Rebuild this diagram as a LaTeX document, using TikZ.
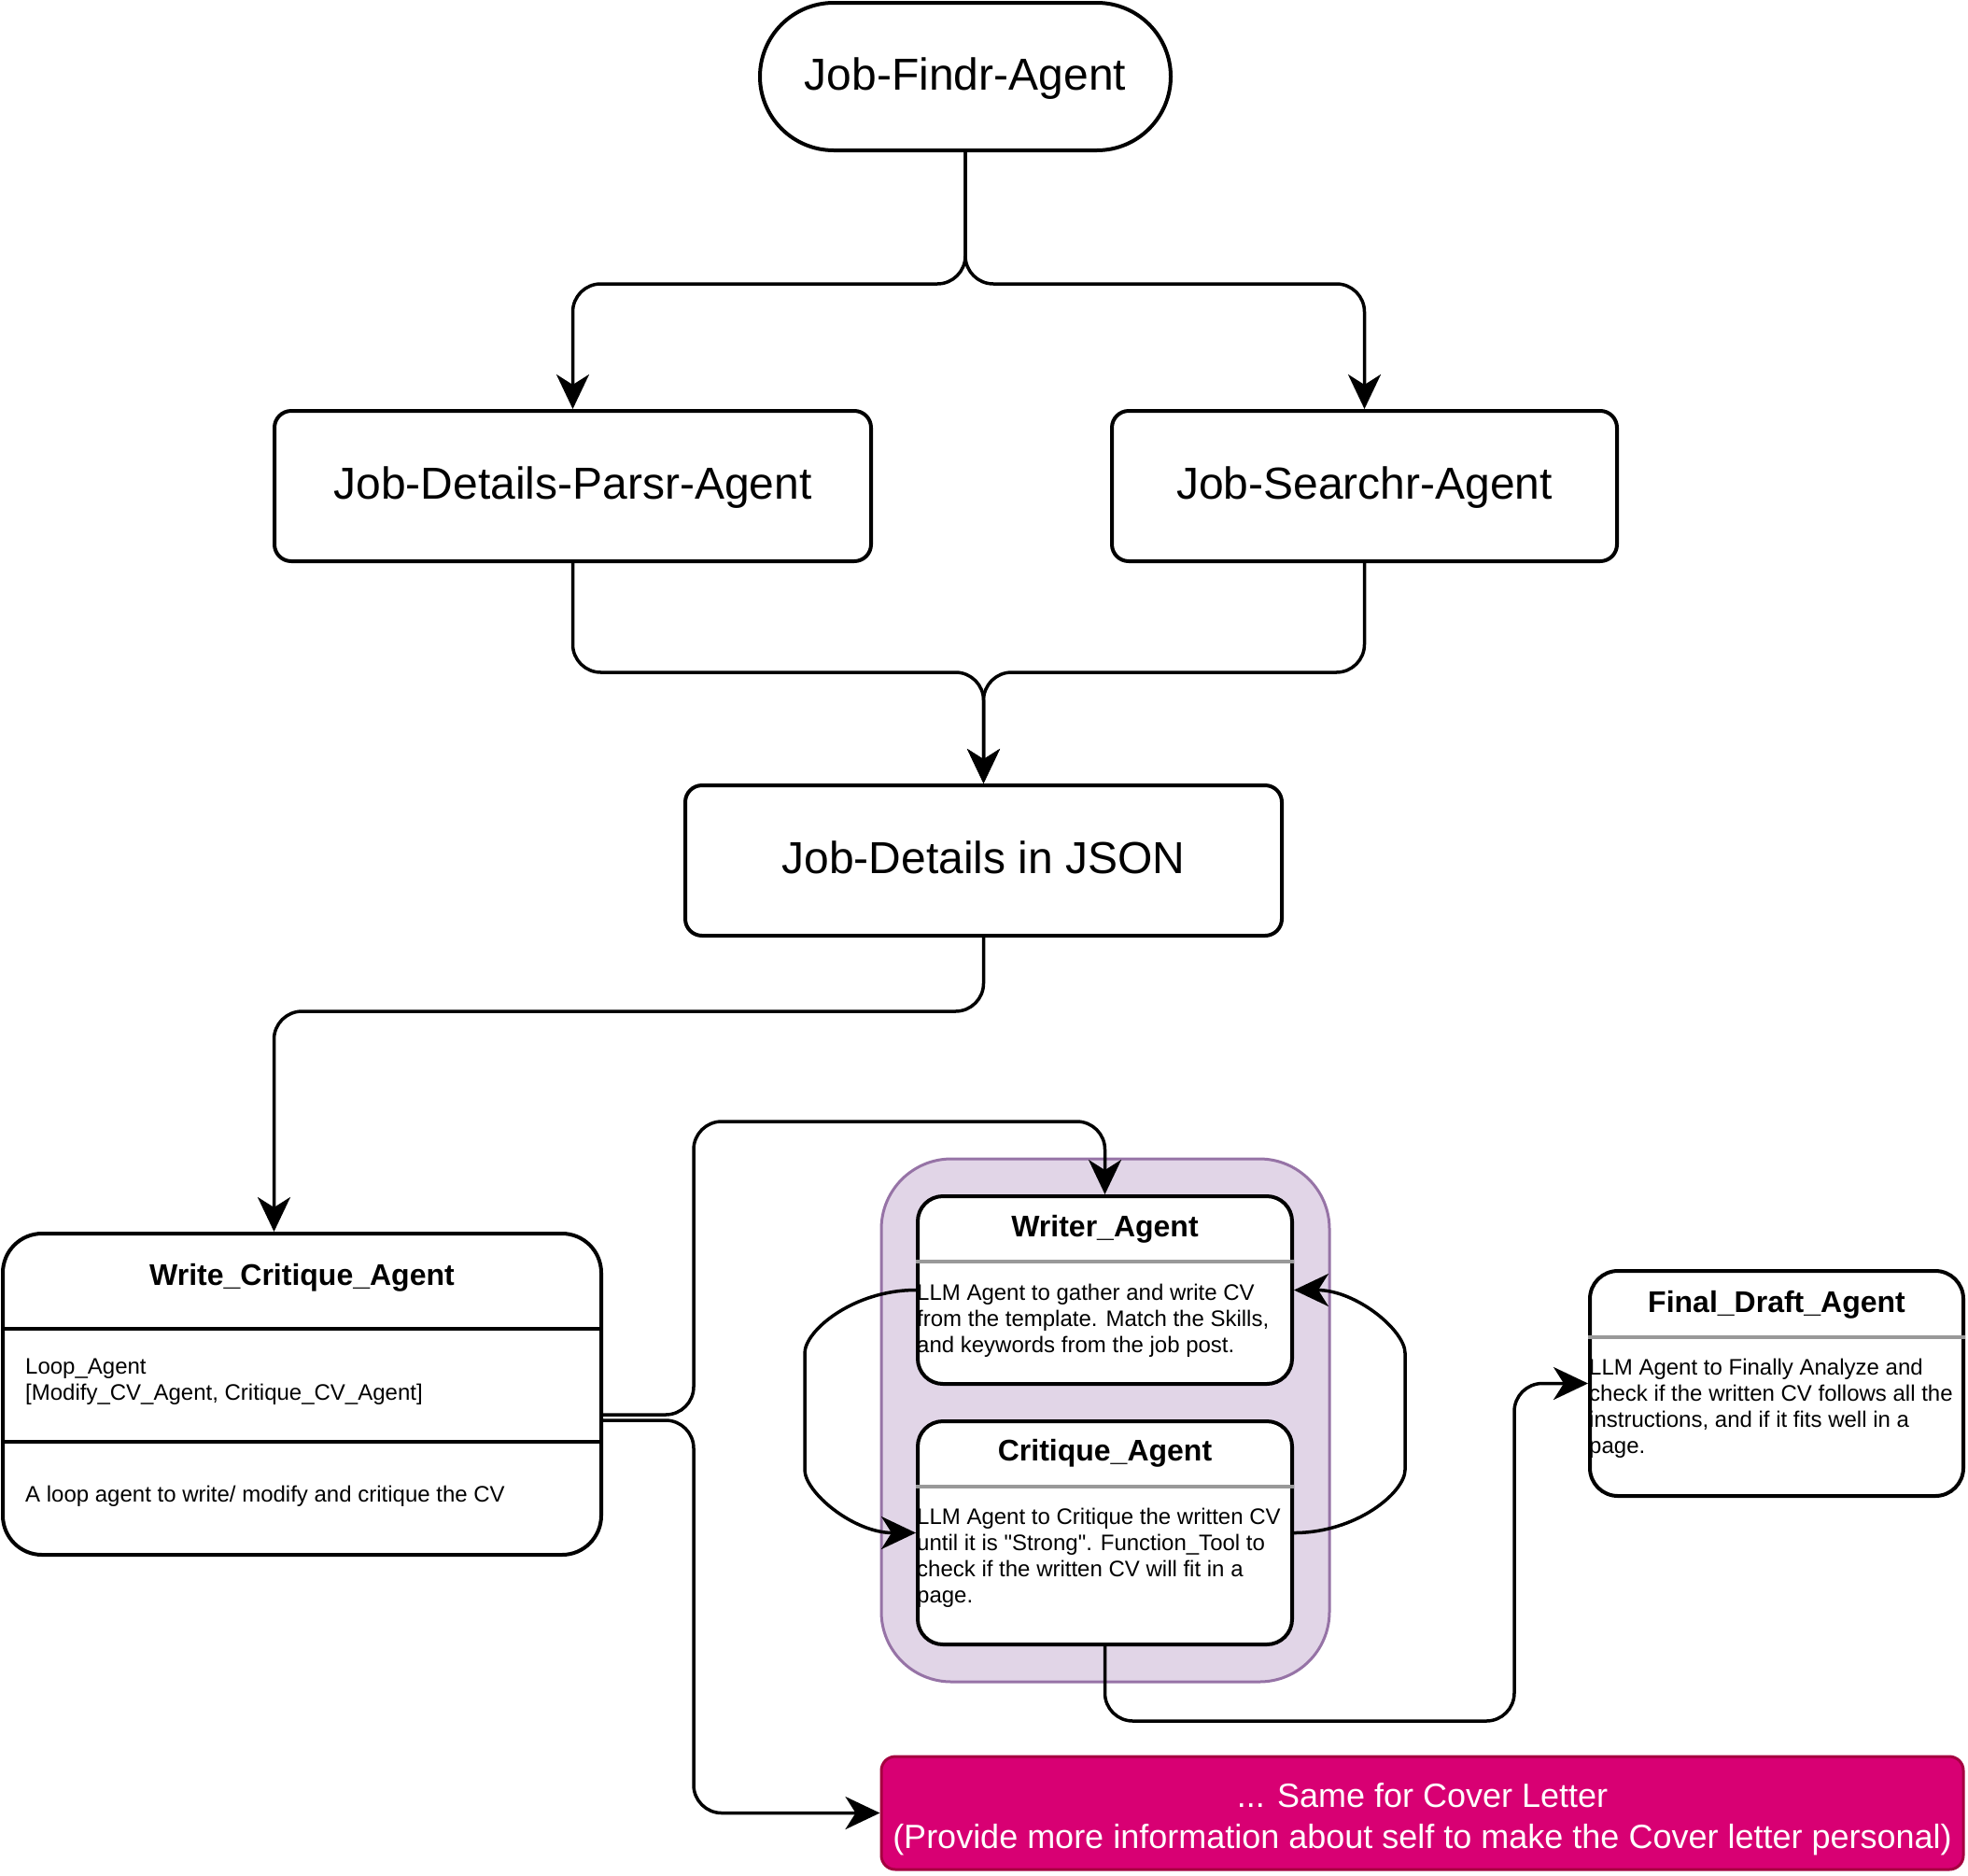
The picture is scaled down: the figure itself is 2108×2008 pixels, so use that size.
\documentclass[tikz,border=0pt]{standalone}
\usepackage{fontspec}
\setmainfont{Liberation Sans}
\newfontfamily\quotefont{Liberation Sans}
\usepackage{tikz}
\usetikzlibrary{arrows.meta}
\usetikzlibrary{positioning}
\tikzset{>={Stealth[length=37pt,width=35pt,inset=11pt]}}

\definecolor{loopfill}{HTML}{E1D5E7}
\definecolor{loopline}{HTML}{9673A6}
\definecolor{coverfill}{HTML}{D80073}
\definecolor{coverline}{HTML}{A50040}
\definecolor{splitgray}{HTML}{999999}

\tikzset{
  agent/.style={draw, line width=4pt, rounded corners=18pt, fill=white, inner sep=0pt,
    text depth=6pt, font=\fontsize{48}{56}\selectfont},
  card/.style={draw, line width=4pt, fill=white, inner sep=0pt},
  cardtitle/.style={font=\fontsize{32}{38}\selectfont\bfseries, inner sep=0pt},
  cardtext/.style={font=\fontsize{24}{28}\selectfont, align=left, inner sep=0pt, anchor=west},
  flow/.style={line width=3.5pt, rounded corners=30pt},
}

\begin{document}
\begin{tikzpicture}[x=1pt, y=-1pt]
  \useasboundingbox (0,0) rectangle (2108,2008);

  % job search part
  \node[agent, rounded corners=79pt, minimum width=440pt, minimum height=158pt] (job-findr) at (1034,82) {Job-Findr-Agent};
  \node[agent, minimum width=639pt, minimum height=161pt] (job-parsr) at (613.5,520.5) {Job-Details-Parsr-Agent};
  \node[agent, minimum width=541pt, minimum height=161pt] (job-searchr) at (1461.5,520.5) {Job-Searchr-Agent};
  \node[agent, minimum width=639pt, minimum height=161pt] (job-json) at (1053.5,921.5) {Job-Details in JSON};

  % loop agent
  \node[card, rounded corners=42pt, minimum width=641pt, minimum height=344pt] (write-critique) at (323.5,1493) {};
  \node[cardtitle] (write-critique-title) at ([yshift=-49pt]write-critique.north) {Write\_Critique\_Agent};
  \draw[line width=4pt] ([yshift=-104pt]write-critique.north west) -- ([yshift=-104pt]write-critique.north east);
  \draw[line width=4pt] ([yshift=-225pt]write-critique.north west) -- ([yshift=-225pt]write-critique.north east);
  \node[cardtext] (write-critique-loop) at ([xshift=26pt,yshift=-161pt]write-critique.north west) {Loop\_Agent\\ {[}Modify\_CV\_Agent, Critique\_CV\_Agent{]}};
  \node[cardtext] (write-critique-note) at ([xshift=26pt,yshift=-283pt]write-critique.north west) {A loop agent to write/ modify and critique the CV};

  % sub agents
  \node[draw=loopline, fill=loopfill, line width=3pt, rounded corners=75pt, minimum width=480pt, minimum height=560pt] (loop-frame) at (1184,1521) {};
  \node[card, rounded corners=27pt, minimum width=401pt, minimum height=201pt] (writer) at (1183.5,1381.5) {};
  \node[cardtitle] (writer-title) at ([yshift=-37pt]writer.north) {Writer\_Agent};
  \draw[splitgray, line width=4pt] ([yshift=-72pt]writer.north west) -- ([yshift=-72pt]writer.north east);
  \node[cardtext] (writer-text) at ([xshift=1pt,yshift=-135pt]writer.north west) {LLM Agent to gather and write CV\\from the template. Match the Skills,\\and keywords from the job post.};

  \node[card, rounded corners=27pt, minimum width=401pt, minimum height=239pt] (critique) at (1183.5,1641.5) {};
  \node[cardtitle] (critique-title) at ([yshift=-36pt]critique.north) {Critique\_Agent};
  \draw[splitgray, line width=4pt] ([yshift=-72pt]critique.north west) -- ([yshift=-72pt]critique.north east);
  \node[cardtext] (critique-text) at ([xshift=1pt,yshift=-148.5pt]critique.north west) {LLM Agent to Critique the written CV\\until it is {\quotefont"Strong"}. Function\_Tool to\\check if the written CV will fit in a\\page.};

  \node[card, rounded corners=30pt, minimum width=400pt, minimum height=241pt] (final-draft) at (1903,1481.5) {};
  \node[cardtitle] (final-draft-title) at ([yshift=-38pt]final-draft.north) {Final\_Draft\_Agent};
  \draw[splitgray, line width=4pt] ([yshift=-73pt]final-draft.north west) -- ([yshift=-73pt]final-draft.north east);
  \node[cardtext] (final-draft-text) at ([xshift=1pt,yshift=-149.5pt]final-draft.north west) {LLM Agent to Finally Analyze and\\check if the written CV follows all the\\instructions, and if it fits well in a\\page.};

  \node[draw=coverline, fill=coverfill, line width=3pt, rounded corners=15pt, minimum width=1159pt, minimum height=121pt] (cover-letter) at (1523.5,1941.5) {};
  \node[text=white, inner sep=0pt, align=center, font=\fontsize{36}{44}\selectfont] (cover-text) at ([yshift=-7pt]cover-letter.center) {... Same for Cover Letter\\(Provide more information about self to make the Cover letter personal)};

  % connectors
  \coordinate[below=141pt of job-findr.south] (findr-split);
  \draw[->, flow] (job-findr.south) -- (findr-split) -| (job-parsr.north);
  \draw[->, flow] (job-findr.south) -- (findr-split) -| (job-searchr.north);

  \coordinate[above=119pt of job-json.north] (json-merge);
  \draw[->, flow] (job-parsr.south) |- (json-merge) -- (job-json.north);
  \draw[->, flow] (job-searchr.south) |- (json-merge) -- (job-json.north);

  \coordinate[below=79pt of job-json.south] (json-turn);
  \coordinate[left=30pt of write-critique.north] (critique-in);
  \draw[->, flow] (job-json.south) -- (json-turn) -| (critique-in);

  \coordinate (branch-top) at (743,1201);
  \draw[->, flow] ([yshift=-22pt]write-critique.east) -| (branch-top) -| (writer.north);
  \draw[->, flow] ([yshift=-28pt]write-critique.east) -| (branch-top |- cover-letter.west) -- (cover-letter.west);

  % writer <-> critique loop
  \coordinate (loop-left-top) at (862,1479);
  \coordinate (loop-left-bottom) at (862,1544);
  \coordinate (loop-right-top) at (1505,1479);
  \coordinate (loop-right-bottom) at (1505,1544);
  \draw[->, flow] (writer.west) .. controls +(-67,0) and +(0,-54) .. (loop-left-top) -- (loop-left-bottom) .. controls +(0,54) and +(-67,0) .. (critique.west);
  \draw[->, flow] (critique.east) .. controls +(67,0) and +(0,54) .. (loop-right-bottom) -- (loop-right-top) .. controls +(0,-54) and +(67,0) .. (writer.east);

  \coordinate[left=79pt of final-draft.west] (draft-in);
  \draw[->, flow] (critique.south) -- ++(0,80) -| (draft-in) -- (final-draft.west);
\end{tikzpicture}
\end{document}
